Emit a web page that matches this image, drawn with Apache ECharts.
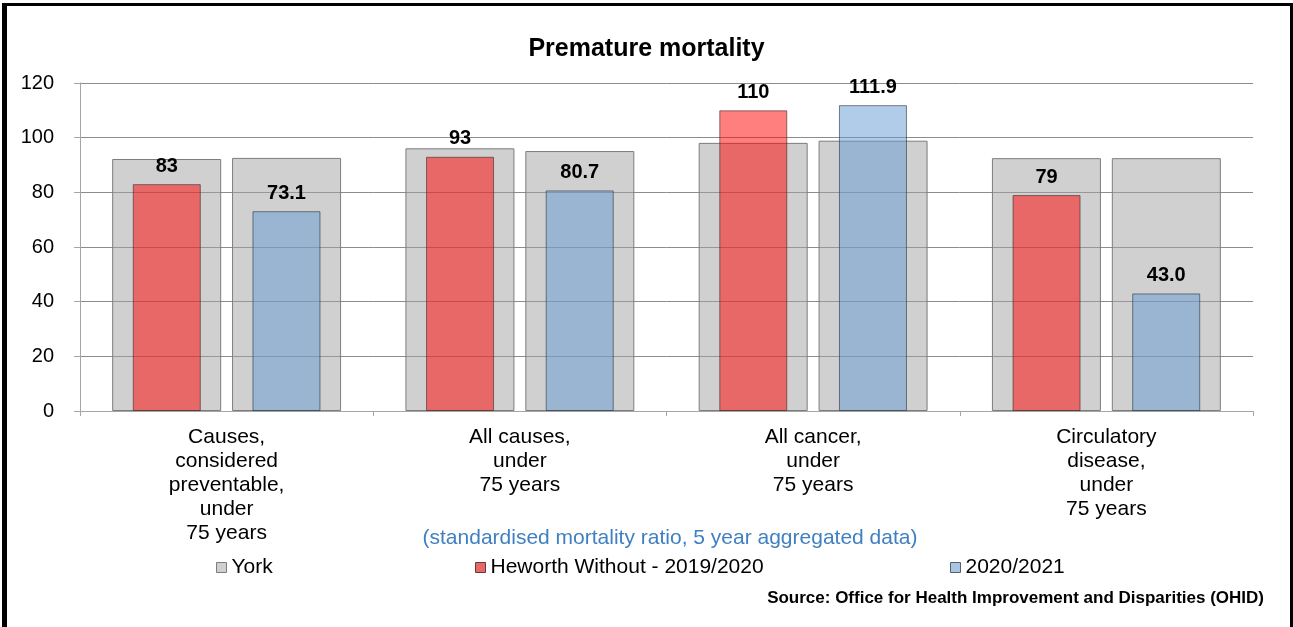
<!DOCTYPE html>
<html>
<head>
<meta charset="utf-8">
<script src="https://cdn.jsdelivr.net/npm/echarts@6/dist/echarts.min.js"></script>
<style>
  html, body { margin: 0; padding: 0; background: #fff; }
  #chart { width: 1293px; height: 627px; }
</style>
</head>
<body>
<div id="chart"></div>
<script>
// Premature mortality – standardised mortality ratios by cause
const categories = [
  'Causes,\nconsidered\npreventable,\nunder\n75 years',
  'All causes,\nunder\n75 years',
  'All cancer,\nunder\n75 years',
  'Circulatory\ndisease,\nunder\n75 years'
];
const yorkPeriod1 = [92.2, 96.1, 98.1, 92.5];   // York, 2019/2020 comparison
const yorkPeriod2 = [92.6, 95.1, 98.9, 92.5];   // York, 2020/2021 comparison
const heworth2019 = [83, 93, 110, 79];
const heworth2020 = [73.1, 80.7, 111.9, 43.0];
const yTicks = [0, 20, 40, 60, 80, 100, 120];

const FONT = 'Liberation Sans, Arial, sans-serif';
const chart = echarts.init(document.getElementById('chart'), null, { renderer: 'canvas' });

const greyStyle = { color: 'rgba(161,161,161,0.5)', borderColor: '#7d7d7d', borderWidth: 1 };
const redStyle = { color: 'rgba(255,0,0,0.5)', borderColor: 'rgba(60,40,40,0.6)', borderWidth: 1 };
const blueStyle = { color: 'rgba(97,153,209,0.5)', borderColor: 'rgba(40,50,60,0.6)', borderWidth: 1 };

const valueLabel = (fmt) => ({
  show: true, position: 'top', distance: 8,
  fontFamily: FONT, fontSize: 20, fontWeight: 'bold', color: '#000',
  formatter: fmt
});

const legendBase = {
  top: 557, orient: 'horizontal', icon: 'rect', itemWidth: 10, itemHeight: 10, itemGap: 4, padding: 0,
  textStyle: { fontFamily: FONT, fontSize: 21, color: '#000', padding: [0, 0, 0, 0] },
  selectedMode: false
};

chart.setOption({
  animation: false,
  backgroundColor: '#fff',
  title: {
    text: 'Premature mortality', left: 'center', top: 32,
    textStyle: { fontFamily: FONT, fontSize: 25, fontWeight: 'bold', color: '#000' }
  },
  legend: [
    Object.assign({}, legendBase, { left: 216, data: [{ name: 'York', itemStyle: { color: '#d0d0d0', borderColor: '#7d7d7d', borderWidth: 1 } }] }),
    Object.assign({}, legendBase, { left: 475, data: [{ name: 'Heworth Without - 2019/2020', itemStyle: { color: '#e86868', borderColor: '#6a3a3a', borderWidth: 1 } }] }),
    Object.assign({}, legendBase, { left: 950, data: [{ name: '2020/2021', itemStyle: { color: '#a9c5e4', borderColor: '#55606b', borderWidth: 1 } }] })
  ],
  grid: { left: 80, right: 40, top: 83, bottom: 216, containLabel: false },
  xAxis: [
    {
      type: 'category', data: categories,
      axisLine: { show: true, lineStyle: { color: '#a6a6a6' } },
      axisTick: { show: true, length: 5, lineStyle: { color: '#a6a6a6' } },
      axisLabel: { fontFamily: FONT, fontSize: 21, lineHeight: 24, color: '#000', margin: 14, interval: 0, align: 'center' }
    },
    { type: 'category', data: categories, show: false }
  ],
  yAxis: {
    type: 'value', min: yTicks[0], max: yTicks[yTicks.length - 1], interval: 20,
    axisLine: { show: true, lineStyle: { color: '#a6a6a6' } },
    axisTick: { show: true, length: 6, lineStyle: { color: '#a6a6a6' } },
    axisLabel: { fontFamily: FONT, fontSize: 20, color: '#000', margin: 26 },
    splitLine: { show: true, lineStyle: { color: '#8c8c8c', width: 1 } }
  },
  series: [
    { name: 'York', type: 'bar', xAxisIndex: 0, data: yorkPeriod1, barWidth: 109, barGap: '10%', itemStyle: greyStyle, z: 2 },
    { name: 'York', type: 'bar', xAxisIndex: 0, data: yorkPeriod2, barWidth: 109, barGap: '10%', itemStyle: greyStyle, z: 2 },
    { name: 'Heworth Without - 2019/2020', type: 'bar', xAxisIndex: 1, data: heworth2019, barWidth: 68, barGap: '76%',
      itemStyle: redStyle, label: valueLabel(p => String(p.value)), z: 3 },
    { name: '2020/2021', type: 'bar', xAxisIndex: 1, data: heworth2020, barWidth: 68, barGap: '76%',
      itemStyle: blueStyle, label: valueLabel(p => p.value.toFixed(1)), z: 3 }
  ],
  graphic: [
    { type: 'text', x: 670, y: 538, style: {
        text: '(standardised mortality ratio, 5 year aggregated data)',
        fontFamily: FONT, fontSize: 21, fill: '#3f7fc2', align: 'center', verticalAlign: 'middle' }, z: 10 },
    { type: 'text', x: 1264, y: 598, style: {
        text: 'Source: Office for Health Improvement and Disparities (OHID)',
        fontFamily: FONT, fontSize: 17, fontWeight: 'bold', fill: '#000', align: 'right', verticalAlign: 'middle' }, z: 10 },
    // outer frame
    { type: 'rect', shape: { x: 2, y: 3, width: 5, height: 624 }, style: { fill: '#000' }, z: 20 },
    { type: 'rect', shape: { x: 2, y: 3, width: 1291, height: 3 }, style: { fill: '#000' }, z: 20 },
    { type: 'rect', shape: { x: 1290, y: 3, width: 3, height: 624 }, style: { fill: '#000' }, z: 20 }
  ]
});
</script>
</body>
</html>
